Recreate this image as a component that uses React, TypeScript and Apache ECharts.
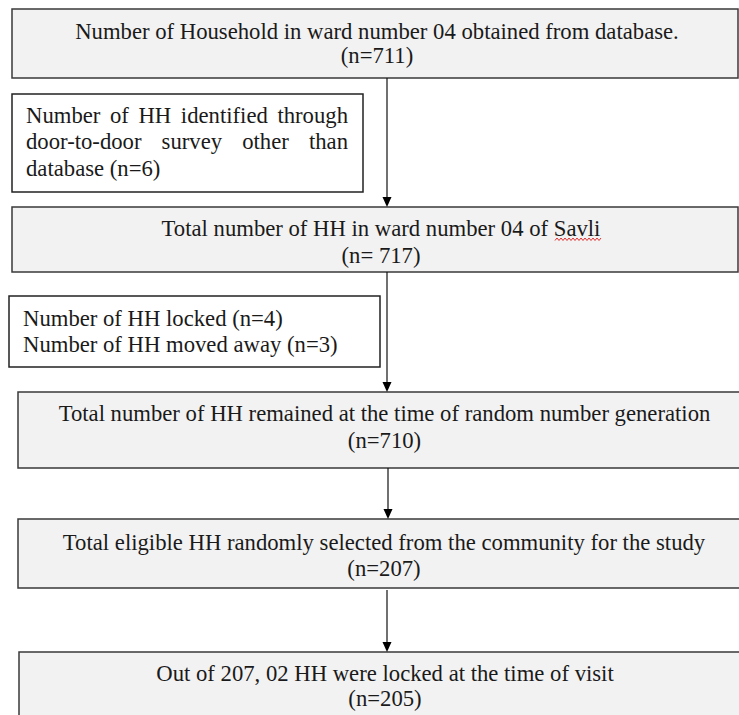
import React, { useEffect, useRef } from "react";
import * as echarts from "echarts";

// ---- content ----
const mainTitles = [
  "Number of Household in ward number 04 obtained from database.",
  "Total number of HH in ward number 04 of Savli",
  "Total number of HH remained at the time of random number generation",
  "Total eligible HH randomly selected from the community for the study",
  "Out of 207, 02 HH were locked at the time of visit",
];
const mainCounts = ["(n=711)", "(n= 717)", "(n=710)", "(n=207)", "(n=205)"];
const addedNote = ["Number of HH identified through", "door-to-door survey other than", "database (n=6)"];
const excludedNote = ["Number of HH locked (n=4)", "Number of HH moved away (n=3)"];

// ---- layout ----
const mainBoxes = [
  { x: 12, y: 9, w: 726, h: 69, cx: 377, l1: 31, l2: 55 },
  { x: 12, y: 207, w: 726, h: 65, cx: 381, l1: 228, l2: 255 },
  { x: 18, y: 392, w: 730, h: 76, cx: 384.5, l1: 413, l2: 440 },
  { x: 18, y: 519, w: 730, h: 69, cx: 384, l1: 542, l2: 568 },
  { x: 19, y: 652, w: 730, h: 75, cx: 385, l1: 673, l2: 698 },
];
const arrows = [
  { x: 387, y1: 78, y2: 207 },
  { x: 387, y1: 272, y2: 392 },
  { x: 388, y1: 468, y2: 519 },
  { x: 387, y1: 590, y2: 652 },
];
const FAMILY = "Liberation Serif";
const FS = 22.7;

function fontOf(size: number) {
  return `${size}px ${FAMILY}`;
}

function measure(text: string, size: number): number {
  const c = document.createElement("canvas").getContext("2d");
  if (!c) return text.length * size * 0.45;
  c.font = `${size}px "${FAMILY}"`;
  return c.measureText(text).width;
}

function justify(line: string, left: number, right: number, size: number) {
  const words = line.split(" ");
  const widths = words.map((w) => measure(w, size));
  const total = widths.reduce((a, b) => a + b, 0);
  const gap = words.length > 1 ? (right - left - total) / (words.length - 1) : 0;
  let x = left;
  return words.map((w, i) => {
    const r = { text: w, x };
    x += widths[i] + gap;
    return r;
  });
}

function txt(text: string, x: number, y: number, align: string, size = FS) {
  return {
    type: "text",
    x,
    y,
    style: {
      text,
      fill: "#1a1a1a",
      font: fontOf(size),
      align,
      verticalAlign: "middle",
    },
  };
}

export default function App() {
  const ref = useRef<HTMLDivElement>(null);
  useEffect(() => {
    if (!ref.current) return;
    const chart = echarts.init(ref.current, null, { renderer: "svg" });
    const els: any[] = [];

    mainBoxes.forEach((b, i) => {
      els.push({
        type: "rect",
        shape: { x: b.x, y: b.y, width: b.w, height: b.h },
        style: { fill: "#f2f2f2", stroke: "#3a3a3a", lineWidth: 1.5 },
      });
      els.push(txt(mainTitles[i], b.cx, b.l1, "center"));
      els.push(txt(mainCounts[i], b.cx, b.l2, "center"));
    });

    // side box 1 (justified)
    els.push({
      type: "rect",
      shape: { x: 12, y: 94, width: 351, height: 98 },
      style: { fill: "#ffffff", stroke: "#222", lineWidth: 1.5 },
    });
    const ys1 = [115, 141, 168];
    addedNote.forEach((line, i) => {
      if (i < addedNote.length - 1) {
        justify(line, 26, 348, FS).forEach((w) => els.push(txt(w.text, w.x, ys1[i], "left")));
      } else {
        els.push(txt(line, 26, ys1[i], "left"));
      }
    });

    // side box 2
    els.push({
      type: "rect",
      shape: { x: 9, y: 296, width: 371, height: 71 },
      style: { fill: "#ffffff", stroke: "#222", lineWidth: 1.5 },
    });
    const ys2 = [318, 344];
    excludedNote.forEach((line, i) => els.push(txt(line, 23, ys2[i], "left")));

    // arrows
    arrows.forEach((a) => {
      els.push({
        type: "line",
        shape: { x1: a.x, y1: a.y1, x2: a.x, y2: a.y2 - 8 },
        style: { stroke: "#111", lineWidth: 1.2 },
      });
      els.push({
        type: "polygon",
        shape: { points: [[a.x - 4.5, a.y2 - 10], [a.x + 4.5, a.y2 - 10], [a.x, a.y2]] },
        style: { fill: "#000" },
      });
    });

    // spell-check squiggle under "Savli"
    const pts: number[][] = [];
    for (let x = 555, k = 0; x <= 602; x += 2, k++) pts.push([x, k % 2 ? 238 : 240.5]);
    els.push({ type: "polyline", shape: { points: pts }, style: { stroke: "#e03030", lineWidth: 1, fill: null } });

    chart.setOption({ animation: false, graphic: { elements: els } });
    return () => chart.dispose();
  }, []);
  return (
    <div
      ref={ref}
      style={{ position: "absolute", left: 0, top: 0, width: 739, height: 715, background: "#fff" }}
    />
  );
}
